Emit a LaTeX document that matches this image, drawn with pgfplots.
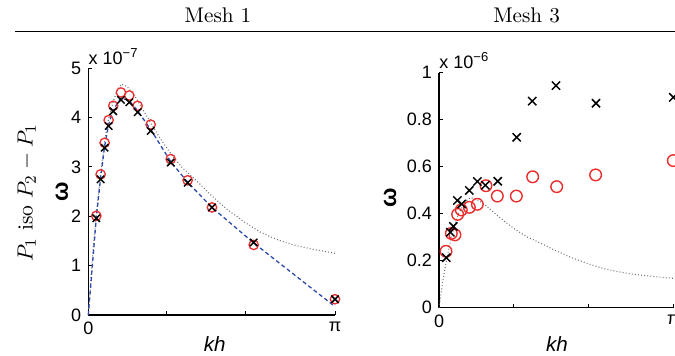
\documentclass[border=0pt]{standalone}
\usepackage{fontspec}
\usepackage{pgfplots}
\pgfplotsset{compat=1.18}
\newfontfamily\hv{Liberation Sans}
\definecolor{mred}{RGB}{235,45,45}
\definecolor{mblue}{RGB}{45,75,175}
\definecolor{mgray}{RGB}{110,110,110}

\pgfplotstableread{
x y
0 0
0.05 1.1
0.1 2.02
0.157 2.88
0.208 3.52
0.259 3.98
0.318 4.33
0.37 4.56
0.42 4.68
0.5 4.62
0.6 4.42
0.7 4.15
0.8 3.88
0.9 3.62
1.0 3.38
1.1 3.17
1.2 2.98
1.34 2.78
1.55 2.45
1.76 2.15
2.0 1.87
2.19 1.68
2.4 1.53
2.61 1.42
2.9 1.32
3.1416 1.25
}\dotleft

\pgfplotstableread{
x y
0 0
0.05 0.110
0.1 0.202
0.157 0.288
0.208 0.352
0.259 0.398
0.318 0.433
0.37 0.456
0.42 0.468
0.5 0.462
0.6 0.442
0.7 0.415
0.8 0.388
0.9 0.362
1.0 0.338
1.1 0.317
1.2 0.298
1.34 0.278
1.55 0.245
1.76 0.215
2.0 0.187
2.19 0.168
2.4 0.153
2.61 0.142
2.9 0.132
3.1416 0.125
}\dotright

\pgfplotstableread{
x y
0.102 2.01
0.157 2.85
0.208 3.49
0.259 3.95
0.318 4.24
0.416 4.51
0.522 4.45
0.628 4.24
0.794 3.86
1.049 3.16
1.265 2.73
1.575 2.18
2.106 1.42
3.1416 0.32
}\circleft

\pgfplotstableread{
x y
0.102 1.96
0.157 2.75
0.208 3.39
0.259 3.83
0.318 4.13
0.416 4.36
0.522 4.31
0.628 4.11
0.794 3.73
1.049 3.09
1.265 2.68
1.575 2.18
2.106 1.47
3.1416 0.32
}\crossleft

\pgfplotstableread{
x y
0 0
0.102 1.97
0.157 2.78
0.208 3.42
0.259 3.86
0.318 4.16
0.416 4.40
0.522 4.34
0.628 4.14
0.794 3.76
1.049 3.11
1.265 2.69
1.575 2.18
2.106 1.46
3.1416 0.17
}\blueleft

\pgfplotstableread{
x y
0.094 0.240
0.165 0.316
0.214 0.310
0.250 0.397
0.299 0.416
0.407 0.427
0.514 0.440
0.630 0.519
0.782 0.475
1.037 0.475
1.256 0.557
1.578 0.515
2.100 0.565
3.1416 0.626
}\circright

\pgfplotstableread{
x y
0.098 0.213
0.152 0.321
0.192 0.346
0.246 0.456
0.304 0.441
0.407 0.499
0.514 0.537
0.621 0.521
0.787 0.538
1.041 0.725
1.251 0.879
1.569 0.945
2.105 0.870
3.1416 0.895
}\crossright

\pgfplotsset{mystyle/.style={
  scale only axis, anchor=south west, clip=false,
  axis x line*=bottom, axis y line*=left,
  axis line style={-, line width=0.6pt, black},
  tick align=inside, major tick length=2pt,
  tick style={black, line width=0.5pt},
  scaled ticks=false,
  xmin=0, xmax=3.14159,
  xtick={0,1,2,3.14159}, xticklabels={0,,,π},
  tick label style={font=\hv\fontsize{9}{10}\selectfont},
  /pgf/number format/assume math mode=true,
}}

\begin{document}
\begin{tikzpicture}
\useasboundingbox (0,0) rectangle (337.5pt,178pt);
\clip (0,0) rectangle (337.5pt,178pt);

% header
\node[anchor=base, font=\fontsize{10.6}{12}\selectfont] at (109pt,166.7pt) {Mesh 1};
\node[anchor=base, font=\fontsize{10.6}{12}\selectfont] at (263.3pt,166.7pt) {Mesh 3};
\draw[line width=0.65pt] (7.5pt,162.2pt) -- (337.5pt,162.2pt);

% left axis
\begin{axis}[mystyle,
  at={(44.15pt,20.5pt)}, width=123.35pt, height=123.35pt,
  ymin=0, ymax=5, ytick={0,1,2,3,4,5}]
\addplot[mgray, line width=0.55pt, dash pattern=on 0.45pt off 1.1pt] table[x=x,y=y] {\dotleft};
\addplot[only marks, mark=o, mark size=2.35pt, mred, mark options={line width=0.65pt}] table[x=x,y=y] {\circleft};
\addplot[only marks, mark=x, mark size=2.6pt, black, mark options={line width=0.75pt}] table[x=x,y=y] {\crossleft};
\addplot[mblue, line width=0.65pt, dash pattern=on 2pt off 1.4pt] table[x=x,y=y] {\blueleft};
\end{axis}

% right axis
\begin{axis}[mystyle,
  at={(219.5pt,24.15pt)}, width=117.15pt, height=117.5pt,
  ymin=0, ymax=1, ytick={0,0.2,0.4,0.6,0.8,1},
  yticklabels={0,0.2,0.4,0.6,0.8,1}]
\addplot[mgray, line width=0.55pt, dash pattern=on 0.45pt off 1.1pt] table[x=x,y=y] {\dotright};
\addplot[only marks, mark=o, mark size=2.9pt, mred, mark options={line width=0.7pt}] table[x=x,y=y] {\circright};
\addplot[only marks, mark=x, mark size=2.9pt, black, mark options={line width=0.75pt}] table[x=x,y=y] {\crossright};
\end{axis}

% exponent labels
\node[anchor=base west, inner sep=0pt, font=\hv\fontsize{9}{10}\selectfont] at (44.15pt,145.5pt) {x 10\raisebox{0.75ex}{\fontsize{6.5}{7}\selectfont −7}};
\node[anchor=base west, inner sep=0pt, font=\hv\fontsize{9}{10}\selectfont] at (219.5pt,143.85pt) {x 10\raisebox{0.75ex}{\fontsize{6.5}{7}\selectfont −6}};

% y labels
\node[rotate=90, font=\fontsize{10.8}{13}\selectfont] at (13.35pt,81.5pt) {$P_1$ iso $P_2 - P_1$};
\node[rotate=90, font=\hv\bfseries\fontsize{11.5}{12}\selectfont] at (30.85pt,82.15pt) {ω};
\node[rotate=90, font=\hv\bfseries\fontsize{11.5}{12}\selectfont] at (195pt,79pt) {ω};

% x labels
\node[anchor=base, font=\hv\itshape\fontsize{10.3}{12}\selectfont] at (107.4pt,2pt) {kh};
\node[anchor=base, font=\hv\itshape\fontsize{10.3}{12}\selectfont] at (278.5pt,2pt) {kh};
\end{tikzpicture}
\end{document}
